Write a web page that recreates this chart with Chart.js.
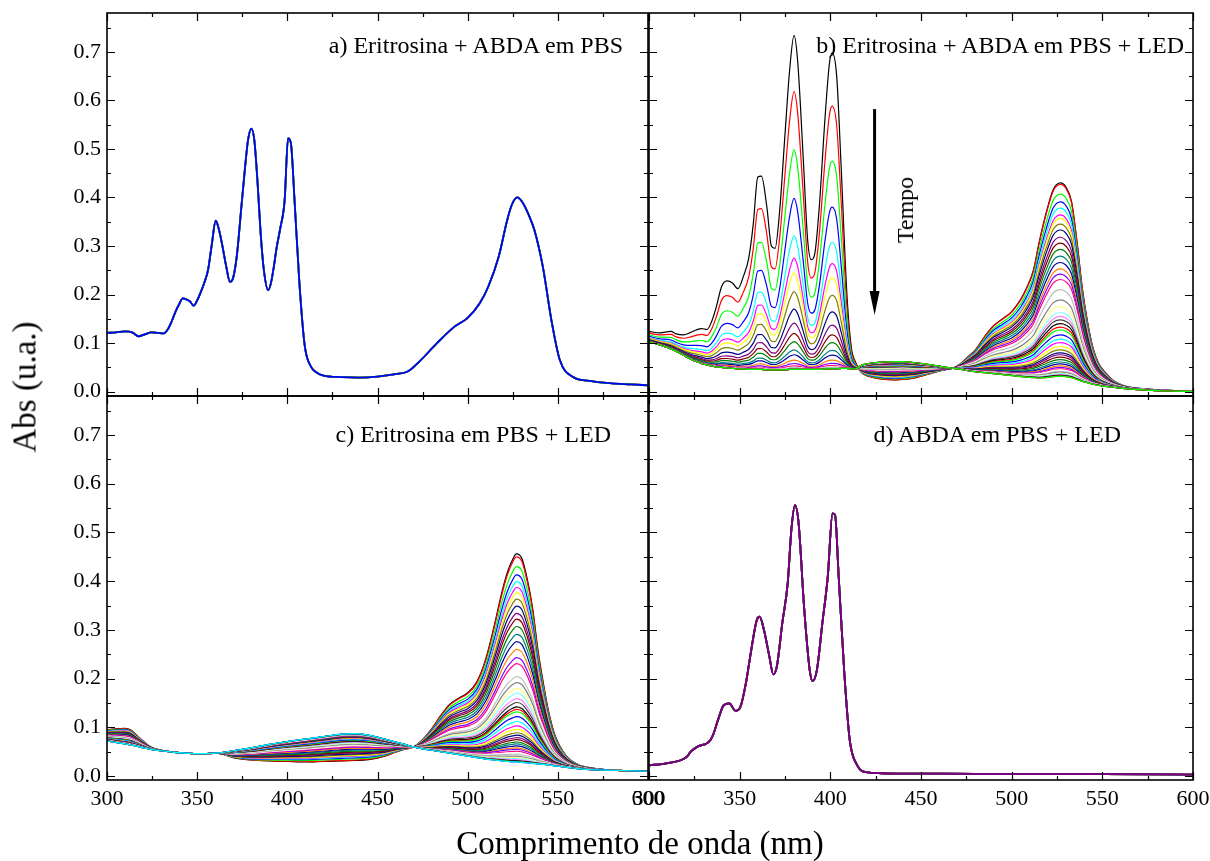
<!DOCTYPE html>
<html>
<head>
<meta charset="utf-8">
<script src="https://cdn.jsdelivr.net/npm/chart.js@4.4.1/dist/chart.umd.min.js"></script>
<style>
  body { margin: 0; background: #fff; }
  #wrap { position: relative; width: 1210px; height: 861px; font-family: "Liberation Serif", "Times New Roman", serif; color: #000; }
  #wrap canvas { position: absolute; left: 0; top: 0; }
  .lbl { position: absolute; white-space: nowrap; font-size: 24px; line-height: 24px; }
  .axis-title { position: absolute; white-space: nowrap; font-size: 33px; line-height: 33px; }
</style>
</head>
<body>
<div id="wrap">
  <canvas id="chartA" width="1210" height="861"></canvas>
  <canvas id="chartB" width="1210" height="861"></canvas>
  <canvas id="chartC" width="1210" height="861"></canvas>
  <canvas id="chartD" width="1210" height="861"></canvas>

  <div class="lbl" style="right:587px; top:33px;">a) Eritrosina + ABDA em PBS</div>
  <div class="lbl" style="right:26px; top:33px;">b) Eritrosina + ABDA em PBS + LED</div>
  <div class="lbl" style="right:599px; top:422px;">c) Eritrosina em PBS + LED</div>
  <div class="lbl" style="right:89px; top:422px;">d) ABDA em PBS + LED</div>
  <div class="lbl" style="left:905px; top:210px; transform: translate(-50%, -50%) rotate(-90deg);">Tempo</div>

  <div class="axis-title" style="left:25px; top:387px; transform: translate(-50%, -50%) rotate(-90deg);">Abs (u.a.)</div>
  <div class="axis-title" style="left:640px; top:827px; transform: translateX(-50%);">Comprimento de onda (nm)</div>
</div>

<script>
// ---- axes ----
const xMajorTicks = [300, 350, 400, 450, 500, 550, 600];
const xMinorTicks = [325, 375, 425, 475, 525, 575];
const yMajorTicks = [0.0, 0.1, 0.2, 0.3, 0.4, 0.5, 0.6, 0.7];
const yMinorTicks = [0.05, 0.15, 0.25, 0.35, 0.45, 0.55, 0.65, 0.75];

// ---- a) Eritrosina + ABDA em PBS (repeated scans, all on top of each other) ----
const aWave = [300, 305, 310, 314, 317.5, 321, 324.5, 328, 331.5, 334, 336, 338, 340, 342, 344, 346, 348, 350, 352, 354,
  356, 358, 360.3, 362, 364, 366, 368.2, 370, 372, 374.5, 376.5, 378.2, 380, 381.7, 383.5, 385.2, 387, 389.4, 391, 392.5,
  394, 396, 398.5, 400.4, 402, 404, 406.7, 409.7, 413.2, 416, 420, 430, 440, 450, 460, 467, 474, 483, 492.7, 499.7,
  506.7, 511.4, 517.2, 521.9, 524.5, 527.5, 530, 533.5, 537, 541.7, 546.4, 551.1, 558, 567.4, 580, 590.7, 600];
const aAbs = [0.121, 0.122, 0.124, 0.122, 0.114, 0.118, 0.122, 0.121, 0.120, 0.130, 0.146, 0.165, 0.180, 0.192, 0.190, 0.186, 0.177, 0.188, 0.205, 0.225,
  0.250, 0.300, 0.352, 0.335, 0.300, 0.260, 0.226, 0.235, 0.280, 0.380, 0.460, 0.518, 0.542, 0.518, 0.430, 0.326, 0.250, 0.209, 0.225, 0.257,
  0.295, 0.335, 0.394, 0.522, 0.511, 0.394, 0.223, 0.093, 0.051, 0.040, 0.033, 0.030, 0.029, 0.031, 0.036, 0.042, 0.065, 0.100, 0.134, 0.151,
  0.182, 0.216, 0.278, 0.353, 0.385, 0.400, 0.392, 0.367, 0.333, 0.257, 0.148, 0.065, 0.031, 0.022, 0.017, 0.015, 0.013];
const aScans = 4;

// ---- b) Eritrosina + ABDA em PBS + LED ----
const bWave = [300, 306, 312, 315, 319, 323, 326, 329, 332, 334.5, 337, 340, 343, 346, 349, 352, 355, 357.5, 360, 362,
  365, 367.5, 369.5, 372, 375, 377.5, 380, 382, 385, 387.5, 389.5, 391.5, 394, 397, 399.5, 401, 403.5, 406, 409, 411.5,
  414, 417, 420, 425, 430, 436, 440, 446, 452, 456, 462, 468, 472, 476, 480, 485, 490, 495, 500, 505,
  508, 512, 515, 519, 523, 527, 530, 533, 536, 539, 542, 545, 548, 551, 556, 563, 570, 580, 590, 600];
// first scan (black) and last scan of the series
const bFirst = [0.124, 0.121, 0.124, 0.119, 0.117, 0.122, 0.127, 0.130, 0.128, 0.144, 0.173, 0.216, 0.228, 0.224, 0.212, 0.237, 0.275, 0.345, 0.442, 0.444,
  0.380, 0.300, 0.295, 0.370, 0.530, 0.660, 0.734, 0.680, 0.485, 0.312, 0.272, 0.286, 0.385, 0.560, 0.676, 0.698, 0.650, 0.460, 0.210, 0.093,
  0.060, 0.040, 0.033, 0.028, 0.025, 0.024, 0.025, 0.028, 0.034, 0.038, 0.044, 0.049, 0.058, 0.072, 0.086, 0.113, 0.136, 0.150, 0.165, 0.190,
  0.212, 0.250, 0.305, 0.368, 0.417, 0.430, 0.421, 0.392, 0.310, 0.212, 0.140, 0.088, 0.058, 0.042, 0.023, 0.011, 0.007, 0.004, 0.002, 0.001];
const bLast = [0.103, 0.096, 0.088, 0.083, 0.075, 0.067, 0.062, 0.058, 0.055, 0.053, 0.051, 0.050, 0.049, 0.048, 0.047, 0.047, 0.046, 0.046, 0.046, 0.046,
  0.045, 0.045, 0.045, 0.045, 0.045, 0.046, 0.046, 0.046, 0.046, 0.046, 0.046, 0.046, 0.046, 0.047, 0.047, 0.047, 0.047, 0.048, 0.048, 0.047,
  0.047, 0.054, 0.057, 0.060, 0.061, 0.062, 0.062, 0.060, 0.057, 0.055, 0.051, 0.048, 0.046, 0.043, 0.041, 0.039, 0.037, 0.035, 0.033, 0.031,
  0.030, 0.029, 0.028, 0.029, 0.031, 0.032, 0.031, 0.029, 0.025, 0.021, 0.018, 0.015, 0.013, 0.011, 0.009, 0.006, 0.004, 0.002, 0.001, 0.000];
const bSplitNm = 415; // below: ABDA bands, above: eritrosina band
// height of every scan at 380 nm (ABDA) and 527 nm (eritrosina), read in order
const bAbdaPeak380 = [0.734, 0.618, 0.498, 0.398, 0.321, 0.275, 0.244, 0.206, 0.170, 0.141, 0.120, 0.103, 0.086, 0.076, 0.065, 0.058, 0.053, 0.050, 0.049, 0.048,
  0.047, 0.047, 0.046, 0.046, 0.046, 0.046, 0.046, 0.046, 0.046, 0.046, 0.046, 0.046, 0.046, 0.046, 0.046, 0.046, 0.046, 0.046, 0.046, 0.046,
  0.046, 0.046, 0.046, 0.046, 0.046, 0.046, 0.046, 0.046, 0.046, 0.046, 0.046];
const bEriPeak527 = [0.430, 0.427, 0.407, 0.391, 0.378, 0.364, 0.357, 0.345, 0.333, 0.318, 0.306, 0.293, 0.279, 0.266, 0.253, 0.242, 0.231, 0.220, 0.210, 0.189,
  0.175, 0.163, 0.155, 0.148, 0.140, 0.133, 0.127, 0.117, 0.108, 0.101, 0.093, 0.086, 0.080, 0.076, 0.071, 0.066, 0.061, 0.057, 0.053, 0.050,
  0.047, 0.045, 0.042, 0.040, 0.038, 0.037, 0.035, 0.034, 0.033, 0.032, 0.032];

// ---- c) Eritrosina em PBS + LED ----
const cWave = [300, 305, 310, 313, 317, 320, 323, 326, 330, 335, 340, 350, 355, 360, 365, 370, 375, 380, 390, 400,
  410, 420, 430, 437, 445, 450, 455, 460, 465, 470, 475, 480, 485, 490, 495, 500, 505, 510, 515, 519,
  522, 525, 527, 530, 533, 536, 539, 542, 545, 548, 551, 555, 560, 565, 570, 580, 590, 600];
const cFirst = [0.095, 0.097, 0.098, 0.095, 0.082, 0.072, 0.063, 0.057, 0.053, 0.050, 0.048, 0.046, 0.046, 0.047, 0.044, 0.038, 0.035, 0.033, 0.031, 0.030,
  0.029, 0.030, 0.031, 0.032, 0.034, 0.037, 0.042, 0.049, 0.055, 0.060, 0.075, 0.097, 0.124, 0.147, 0.160, 0.171, 0.193, 0.240, 0.313, 0.378,
  0.418, 0.445, 0.456, 0.447, 0.405, 0.345, 0.258, 0.190, 0.130, 0.088, 0.062, 0.040, 0.026, 0.019, 0.016, 0.012, 0.011, 0.010];
const cLast = [0.072, 0.069, 0.066, 0.064, 0.061, 0.058, 0.056, 0.054, 0.052, 0.050, 0.048, 0.046, 0.046, 0.047, 0.049, 0.052, 0.055, 0.058, 0.065, 0.071,
  0.076, 0.081, 0.086, 0.087, 0.084, 0.080, 0.075, 0.070, 0.065, 0.060, 0.056, 0.053, 0.050, 0.047, 0.044, 0.041, 0.038, 0.035, 0.033, 0.031,
  0.030, 0.029, 0.029, 0.028, 0.027, 0.026, 0.025, 0.024, 0.023, 0.021, 0.020, 0.018, 0.016, 0.014, 0.013, 0.012, 0.011, 0.010];
const cEriPeak527 = [0.456, 0.450, 0.430, 0.413, 0.399, 0.387, 0.376, 0.363, 0.349, 0.334, 0.322, 0.307, 0.291, 0.276, 0.260, 0.243, 0.231, 0.218, 0.204, 0.192,
  0.180, 0.170, 0.159, 0.151, 0.142, 0.137, 0.132, 0.122, 0.112, 0.103, 0.096, 0.089, 0.084, 0.079, 0.075, 0.070, 0.066, 0.062, 0.058, 0.055,
  0.051, 0.048, 0.045, 0.041, 0.038, 0.036, 0.034, 0.032, 0.031, 0.030, 0.030, 0.029, 0.029];

// ---- d) ABDA em PBS + LED (repeated scans, no change) ----
const dWave = [300, 311, 321, 323, 327, 333, 335.3, 338.3, 341.3, 344.3, 347.7, 350.4, 353.4, 356.4, 359.4, 361, 363.4, 366.4, 368.5, 370.5,
  373.5, 376.5, 378.5, 380.5, 382.5, 385.5, 388.6, 390.2, 392.6, 395.6, 398.6, 401.2, 402.6, 404.6, 407.7, 410.7, 414.7, 419.7, 436, 460,
  500, 550, 600];
const dAbs = [0.022, 0.027, 0.040, 0.050, 0.061, 0.070, 0.084, 0.118, 0.146, 0.149, 0.134, 0.142, 0.190, 0.259, 0.320, 0.327, 0.300, 0.245, 0.209, 0.225,
  0.314, 0.396, 0.505, 0.556, 0.519, 0.348, 0.218, 0.195, 0.218, 0.314, 0.410, 0.539, 0.536, 0.410, 0.212, 0.074, 0.023, 0.008, 0.005, 0.005,
  0.004, 0.004, 0.003];
const dScans = 10;

// Origin default colour cycle
const originColors = ['#000000', '#FF0000', '#00FF00', '#0000FF', '#00FFFF', '#FF00FF', '#FFFF00', '#808000',
  '#000080', '#800080', '#800000', '#008000', '#008080', '#0000A0', '#FF8000', '#8000FF',
  '#FF0080', '#FFFFFF', '#C0C0C0', '#808080', '#FFFF80', '#80FFFF', '#FF80FF', '#404040'];

const W = 1210, H = 861;
const tickFont = { family: '"Liberation Serif", "Times New Roman", serif', size: 22 };

function spectrum(wave, values, i, width) {
  return {
    data: wave.map((w, k) => ({ x: w, y: values[k] })),
    borderColor: originColors[i % originColors.length],
    borderWidth: width,
    pointRadius: 0,
    fill: false,
    cubicInterpolationMode: 'monotone',
    order: -i // later scans on top
  };
}

// frame with inward ticks on all four sides
const framePlugin = {
  id: 'frame',
  afterDraw(chart) {
    const { ctx, chartArea: a, scales: { x, y } } = chart;
    ctx.save();
    ctx.strokeStyle = '#000';
    ctx.lineWidth = 1.2;
    ctx.beginPath();
    const xt = (v, len) => {
      const p = Math.round(x.getPixelForValue(v)) + 0.5;
      ctx.moveTo(p, a.bottom); ctx.lineTo(p, a.bottom - len);
      ctx.moveTo(p, a.top); ctx.lineTo(p, a.top + len);
    };
    const yt = (v, len) => {
      const p = Math.round(y.getPixelForValue(v)) + 0.5;
      ctx.moveTo(a.left, p); ctx.lineTo(a.left + len, p);
      ctx.moveTo(a.right, p); ctx.lineTo(a.right - len, p);
    };
    xMajorTicks.forEach(v => xt(v, 8));
    xMinorTicks.forEach(v => xt(v, 4));
    yMajorTicks.forEach(v => yt(v, 8));
    yMinorTicks.forEach(v => yt(v, 4));
    ctx.stroke();
    ctx.lineWidth = 1.6;
    ctx.strokeRect(a.left, a.top, a.right - a.left, a.bottom - a.top);
    ctx.restore();
  }
};

// "Tempo" arrow in panel b, placed in data coordinates
const arrowPlugin = {
  id: 'arrow',
  afterDatasetsDraw(chart, args, o) {
    if (!o || o.x === undefined) return;
    const { ctx, scales: { x, y } } = chart;
    const px = x.getPixelForValue(o.x);
    const y1 = y.getPixelForValue(o.from);
    const y2 = y.getPixelForValue(o.to);
    ctx.save();
    ctx.strokeStyle = '#000';
    ctx.fillStyle = '#000';
    ctx.lineWidth = 3;
    ctx.beginPath();
    ctx.moveTo(px, y1);
    ctx.lineTo(px, y2 - 20);
    ctx.stroke();
    ctx.beginPath();
    ctx.moveTo(px - 5, y2 - 24);
    ctx.lineTo(px + 5, y2 - 24);
    ctx.lineTo(px, y2);
    ctx.closePath();
    ctx.fill();
    ctx.restore();
  }
};

function makePanel(id, area, yRange, showX, showY, datasets, arrow) {
  const yLabelW = 107, xLabelH = 40;
  return new Chart(document.getElementById(id), {
    type: 'line',
    data: { datasets },
    options: {
      responsive: false,
      animation: false,
      events: [],
      layout: {
        padding: {
          left: showY ? area.left - yLabelW : area.left,
          right: W - area.right,
          top: area.top,
          bottom: showX ? H - area.bottom - xLabelH : H - area.bottom
        }
      },
      plugins: { legend: { display: false }, tooltip: { enabled: false }, arrow: arrow || false },
      scales: {
        x: {
          type: 'linear', min: 300, max: 600,
          grid: { display: false, drawTicks: false }, border: { display: false },
          afterBuildTicks: s => { s.ticks = xMajorTicks.map(v => ({ value: v })); },
          ticks: { display: showX, padding: 6, color: '#000', font: tickFont, maxRotation: 0, autoSkip: false,
                   callback: v => String(v) },
          afterFit: s => { s.height = showX ? xLabelH : 0; s.paddingLeft = 0; s.paddingRight = 0; }
        },
        y: {
          type: 'linear', min: yRange[0], max: yRange[1],
          grid: { display: false, drawTicks: false }, border: { display: false },
          afterBuildTicks: s => { s.ticks = yMajorTicks.map(v => ({ value: v })); },
          ticks: { display: showY, padding: 6, color: '#000', font: tickFont, autoSkip: false,
                   callback: v => Number(v).toFixed(1) },
          afterFit: s => { s.width = showY ? yLabelW : 0; s.paddingTop = 0; s.paddingBottom = 0; }
        }
      }
    },
    plugins: [framePlugin, arrowPlugin]
  });
}

// panel a
const aSets = [];
for (let i = 0; i < aScans; i++) aSets.push(spectrum(aWave, aAbs, i, 1.8));

// panel b: each scan mixes first and last scan with the heights read at 380 / 527 nm
const bA0 = bAbdaPeak380[0], bAn = bAbdaPeak380[bAbdaPeak380.length - 1];
const bE0 = bEriPeak527[0], bEn = bEriPeak527[bEriPeak527.length - 1];
const bSets = bAbdaPeak380.map((pA, i) => {
  const fA = (pA - bAn) / (bA0 - bAn);
  const fE = (bEriPeak527[i] - bEn) / (bE0 - bEn);
  const vals = bWave.map((w, k) => bLast[k] + (w < bSplitNm ? fA : fE) * (bFirst[k] - bLast[k]));
  return spectrum(bWave, vals, i, 1.2);
});

// panel c
const cE0 = cEriPeak527[0], cEn = cEriPeak527[cEriPeak527.length - 1];
const cSets = cEriPeak527.map((p, i) => {
  const f = (p - cEn) / (cE0 - cEn);
  const vals = cWave.map((w, k) => cLast[k] + f * (cFirst[k] - cLast[k]));
  return spectrum(cWave, vals, i, 1.2);
});

// panel d
const dSets = [];
for (let i = 0; i < dScans; i++) dSets.push(spectrum(dWave, dAbs, i, 1.8));

makePanel('chartA', { left: 107, right: 648, top: 13, bottom: 396 }, [-0.009, 0.78], false, true, aSets);
makePanel('chartB', { left: 649, right: 1193, top: 13, bottom: 396 }, [-0.009, 0.78], false, false, bSets,
  { x: 424.4, from: 0.582, to: 0.158 });
makePanel('chartC', { left: 107, right: 648, top: 396, bottom: 780 }, [-0.008, 0.78], true, true, cSets);
makePanel('chartD', { left: 649, right: 1193, top: 396, bottom: 780 }, [-0.008, 0.78], true, false, dSets);
</script>
</body>
</html>
